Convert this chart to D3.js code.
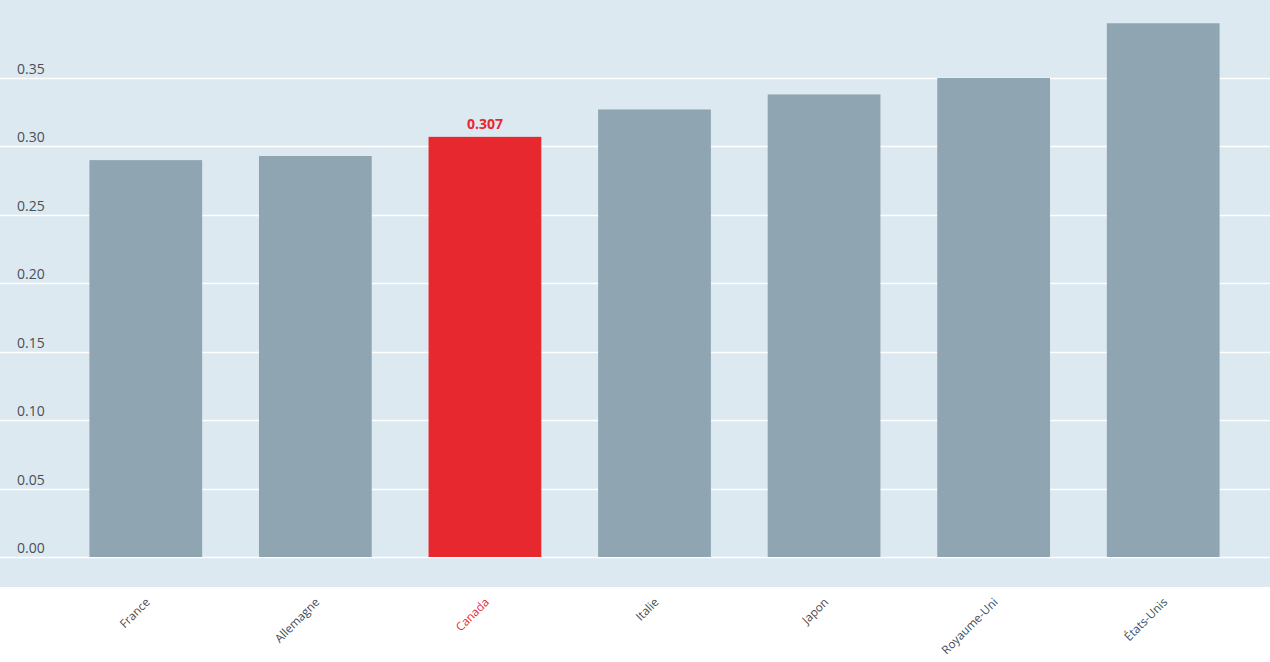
<!DOCTYPE html>
<html><head><meta charset="utf-8">
<script src="https://cdn.jsdelivr.net/npm/d3@7"></script>
<style>html,body{margin:0;padding:0;background:#fff;}svg{display:block;font-family:"Open Sans","Noto Sans",sans-serif;}</style>
</head><body>
<svg id="chart" width="1270" height="662"></svg>
<script>
const categories = ["France","Allemagne","Canada","Italie","Japon","Royaume-Uni","États-Unis"];
const values = [0.290, 0.293, 0.307, 0.327, 0.338, 0.350, 0.390];
const yTicks = [0, 0.05, 0.10, 0.15, 0.20, 0.25, 0.30, 0.35];
const highlight = "Canada";

const W = 1270, H = 662;
const svg = d3.select("#chart");
const plotBottom = 587;
const x = d3.scaleBand().domain(categories).range([61, 1248]).paddingInner(0.335).paddingOuter(0.1675);
const y = d3.scaleLinear().domain([0, 0.35]).range([557, 78]);

svg.append("rect").attr("x",0).attr("y",0).attr("width",W).attr("height",plotBottom).attr("fill","#dde9f1");

// grid
svg.append("g").selectAll("line").data(yTicks).join("line")
  .attr("x1",0).attr("x2",W)
  .attr("y1",d=>Math.round(y(d))+0.5).attr("y2",d=>Math.round(y(d))+0.5)
  .attr("stroke","#fff").attr("stroke-width",1.6);

// y labels
svg.append("g").selectAll("text").data(yTicks).join("text")
  .attr("x",17).attr("y",d=>y(d)-4)
  .attr("font-size",14).attr("fill","#4a4f58")
  .text(d=>d3.format(".2f")(d));

// bars
svg.append("g").selectAll("rect").data(categories).join("rect")
  .attr("x",d=>x(d)).attr("width",x.bandwidth())
  .attr("y",(d,i)=>y(values[i])).attr("height",(d,i)=>y(0)-y(values[i]))
  .attr("fill",d=>d===highlight?"#e8282f":"#8fa5b2");

// value label for highlight
categories.forEach((c,i)=>{
  if(c===highlight){
    svg.append("text").attr("x",x(c)+x.bandwidth()/2).attr("y",y(values[i])-8)
      .attr("text-anchor","middle").attr("font-size",14).attr("font-weight","bold")
      .attr("fill","#e8282f").text(d3.format(".3f")(values[i]));
  }
});

// x labels
svg.append("g").selectAll("text").data(categories).join("text")
  .attr("transform",d=>`translate(${x(d)+x.bandwidth()/2+2},${600}) rotate(-45)`)
  .attr("text-anchor","end").attr("dy","0.35em")
  .attr("font-size",11.7).attr("fill",d=>d===highlight?"#e8282f":"#444a52")
  .text(d=>d);
</script>
</body></html>
